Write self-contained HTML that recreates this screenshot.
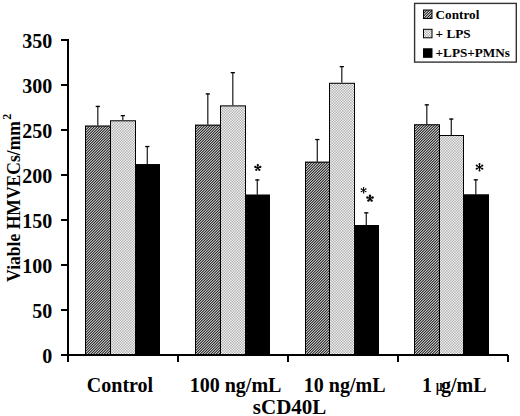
<!DOCTYPE html>
<html><head><meta charset="utf-8"><style>
html,body{margin:0;padding:0;background:#fff;}
body{width:520px;height:416px;overflow:hidden;}
svg{display:block;}
text{font-family:"Liberation Serif",serif;font-weight:bold;fill:#000;}
.t{font-size:20px;}
.y{font-size:18px;}
.x{font-size:20px;}
.l{font-size:13.2px;}
.s{font-size:19px;}
</style></head><body>
<svg width="520" height="416" viewBox="0 0 520 416">
<defs>
<pattern id="hatch" patternUnits="userSpaceOnUse" width="8" height="8" shape-rendering="crispEdges"><rect x="0" y="0" width="1" height="1" fill="rgb(210,210,210)"/><rect x="1" y="0" width="1" height="1" fill="rgb(60,60,60)"/><rect x="2" y="0" width="1" height="1" fill="rgb(122,122,122)"/><rect x="3" y="0" width="1" height="1" fill="rgb(184,184,184)"/><rect x="4" y="0" width="1" height="1" fill="rgb(34,34,34)"/><rect x="5" y="0" width="1" height="1" fill="rgb(184,184,184)"/><rect x="6" y="0" width="1" height="1" fill="rgb(122,122,122)"/><rect x="7" y="0" width="1" height="1" fill="rgb(60,60,60)"/><rect x="0" y="1" width="1" height="1" fill="rgb(60,60,60)"/><rect x="1" y="1" width="1" height="1" fill="rgb(122,122,122)"/><rect x="2" y="1" width="1" height="1" fill="rgb(184,184,184)"/><rect x="3" y="1" width="1" height="1" fill="rgb(34,34,34)"/><rect x="4" y="1" width="1" height="1" fill="rgb(184,184,184)"/><rect x="5" y="1" width="1" height="1" fill="rgb(122,122,122)"/><rect x="6" y="1" width="1" height="1" fill="rgb(60,60,60)"/><rect x="7" y="1" width="1" height="1" fill="rgb(210,210,210)"/><rect x="0" y="2" width="1" height="1" fill="rgb(122,122,122)"/><rect x="1" y="2" width="1" height="1" fill="rgb(184,184,184)"/><rect x="2" y="2" width="1" height="1" fill="rgb(34,34,34)"/><rect x="3" y="2" width="1" height="1" fill="rgb(184,184,184)"/><rect x="4" y="2" width="1" height="1" fill="rgb(122,122,122)"/><rect x="5" y="2" width="1" height="1" fill="rgb(60,60,60)"/><rect x="6" y="2" width="1" height="1" fill="rgb(210,210,210)"/><rect x="7" y="2" width="1" height="1" fill="rgb(60,60,60)"/><rect x="0" y="3" width="1" height="1" fill="rgb(184,184,184)"/><rect x="1" y="3" width="1" height="1" fill="rgb(34,34,34)"/><rect x="2" y="3" width="1" height="1" fill="rgb(184,184,184)"/><rect x="3" y="3" width="1" height="1" fill="rgb(122,122,122)"/><rect x="4" y="3" width="1" height="1" fill="rgb(60,60,60)"/><rect x="5" y="3" width="1" height="1" fill="rgb(210,210,210)"/><rect x="6" y="3" width="1" height="1" fill="rgb(60,60,60)"/><rect x="7" y="3" width="1" height="1" fill="rgb(122,122,122)"/><rect x="0" y="4" width="1" height="1" fill="rgb(34,34,34)"/><rect x="1" y="4" width="1" height="1" fill="rgb(184,184,184)"/><rect x="2" y="4" width="1" height="1" fill="rgb(122,122,122)"/><rect x="3" y="4" width="1" height="1" fill="rgb(60,60,60)"/><rect x="4" y="4" width="1" height="1" fill="rgb(210,210,210)"/><rect x="5" y="4" width="1" height="1" fill="rgb(60,60,60)"/><rect x="6" y="4" width="1" height="1" fill="rgb(122,122,122)"/><rect x="7" y="4" width="1" height="1" fill="rgb(184,184,184)"/><rect x="0" y="5" width="1" height="1" fill="rgb(184,184,184)"/><rect x="1" y="5" width="1" height="1" fill="rgb(122,122,122)"/><rect x="2" y="5" width="1" height="1" fill="rgb(60,60,60)"/><rect x="3" y="5" width="1" height="1" fill="rgb(210,210,210)"/><rect x="4" y="5" width="1" height="1" fill="rgb(60,60,60)"/><rect x="5" y="5" width="1" height="1" fill="rgb(122,122,122)"/><rect x="6" y="5" width="1" height="1" fill="rgb(184,184,184)"/><rect x="7" y="5" width="1" height="1" fill="rgb(34,34,34)"/><rect x="0" y="6" width="1" height="1" fill="rgb(122,122,122)"/><rect x="1" y="6" width="1" height="1" fill="rgb(60,60,60)"/><rect x="2" y="6" width="1" height="1" fill="rgb(210,210,210)"/><rect x="3" y="6" width="1" height="1" fill="rgb(60,60,60)"/><rect x="4" y="6" width="1" height="1" fill="rgb(122,122,122)"/><rect x="5" y="6" width="1" height="1" fill="rgb(184,184,184)"/><rect x="6" y="6" width="1" height="1" fill="rgb(34,34,34)"/><rect x="7" y="6" width="1" height="1" fill="rgb(184,184,184)"/><rect x="0" y="7" width="1" height="1" fill="rgb(60,60,60)"/><rect x="1" y="7" width="1" height="1" fill="rgb(210,210,210)"/><rect x="2" y="7" width="1" height="1" fill="rgb(60,60,60)"/><rect x="3" y="7" width="1" height="1" fill="rgb(122,122,122)"/><rect x="4" y="7" width="1" height="1" fill="rgb(184,184,184)"/><rect x="5" y="7" width="1" height="1" fill="rgb(34,34,34)"/><rect x="6" y="7" width="1" height="1" fill="rgb(184,184,184)"/><rect x="7" y="7" width="1" height="1" fill="rgb(122,122,122)"/></pattern>
<pattern id="dots" patternUnits="userSpaceOnUse" width="8" height="8" shape-rendering="crispEdges"><rect x="0" y="0" width="1" height="1" fill="rgb(176,176,176)"/><rect x="1" y="0" width="1" height="1" fill="rgb(248,248,248)"/><rect x="2" y="0" width="1" height="1" fill="rgb(187,187,187)"/><rect x="3" y="0" width="1" height="1" fill="rgb(201,201,201)"/><rect x="4" y="0" width="1" height="1" fill="rgb(242,242,242)"/><rect x="5" y="0" width="1" height="1" fill="rgb(170,170,170)"/><rect x="6" y="0" width="1" height="1" fill="rgb(231,231,231)"/><rect x="7" y="0" width="1" height="1" fill="rgb(217,217,217)"/><rect x="0" y="1" width="1" height="1" fill="rgb(248,248,248)"/><rect x="1" y="1" width="1" height="1" fill="rgb(163,163,163)"/><rect x="2" y="1" width="1" height="1" fill="rgb(235,235,235)"/><rect x="3" y="1" width="1" height="1" fill="rgb(218,218,218)"/><rect x="4" y="1" width="1" height="1" fill="rgb(170,170,170)"/><rect x="5" y="1" width="1" height="1" fill="rgb(255,255,255)"/><rect x="6" y="1" width="1" height="1" fill="rgb(183,183,183)"/><rect x="7" y="1" width="1" height="1" fill="rgb(200,200,200)"/><rect x="0" y="2" width="1" height="1" fill="rgb(187,187,187)"/><rect x="1" y="2" width="1" height="1" fill="rgb(235,235,235)"/><rect x="2" y="2" width="1" height="1" fill="rgb(194,194,194)"/><rect x="3" y="2" width="1" height="1" fill="rgb(204,204,204)"/><rect x="4" y="2" width="1" height="1" fill="rgb(231,231,231)"/><rect x="5" y="2" width="1" height="1" fill="rgb(183,183,183)"/><rect x="6" y="2" width="1" height="1" fill="rgb(224,224,224)"/><rect x="7" y="2" width="1" height="1" fill="rgb(214,214,214)"/><rect x="0" y="3" width="1" height="1" fill="rgb(201,201,201)"/><rect x="1" y="3" width="1" height="1" fill="rgb(218,218,218)"/><rect x="2" y="3" width="1" height="1" fill="rgb(204,204,204)"/><rect x="3" y="3" width="1" height="1" fill="rgb(207,207,207)"/><rect x="4" y="3" width="1" height="1" fill="rgb(217,217,217)"/><rect x="5" y="3" width="1" height="1" fill="rgb(200,200,200)"/><rect x="6" y="3" width="1" height="1" fill="rgb(214,214,214)"/><rect x="7" y="3" width="1" height="1" fill="rgb(211,211,211)"/><rect x="0" y="4" width="1" height="1" fill="rgb(242,242,242)"/><rect x="1" y="4" width="1" height="1" fill="rgb(170,170,170)"/><rect x="2" y="4" width="1" height="1" fill="rgb(231,231,231)"/><rect x="3" y="4" width="1" height="1" fill="rgb(217,217,217)"/><rect x="4" y="4" width="1" height="1" fill="rgb(176,176,176)"/><rect x="5" y="4" width="1" height="1" fill="rgb(248,248,248)"/><rect x="6" y="4" width="1" height="1" fill="rgb(187,187,187)"/><rect x="7" y="4" width="1" height="1" fill="rgb(201,201,201)"/><rect x="0" y="5" width="1" height="1" fill="rgb(170,170,170)"/><rect x="1" y="5" width="1" height="1" fill="rgb(255,255,255)"/><rect x="2" y="5" width="1" height="1" fill="rgb(183,183,183)"/><rect x="3" y="5" width="1" height="1" fill="rgb(200,200,200)"/><rect x="4" y="5" width="1" height="1" fill="rgb(248,248,248)"/><rect x="5" y="5" width="1" height="1" fill="rgb(163,163,163)"/><rect x="6" y="5" width="1" height="1" fill="rgb(235,235,235)"/><rect x="7" y="5" width="1" height="1" fill="rgb(218,218,218)"/><rect x="0" y="6" width="1" height="1" fill="rgb(231,231,231)"/><rect x="1" y="6" width="1" height="1" fill="rgb(183,183,183)"/><rect x="2" y="6" width="1" height="1" fill="rgb(224,224,224)"/><rect x="3" y="6" width="1" height="1" fill="rgb(214,214,214)"/><rect x="4" y="6" width="1" height="1" fill="rgb(187,187,187)"/><rect x="5" y="6" width="1" height="1" fill="rgb(235,235,235)"/><rect x="6" y="6" width="1" height="1" fill="rgb(194,194,194)"/><rect x="7" y="6" width="1" height="1" fill="rgb(204,204,204)"/><rect x="0" y="7" width="1" height="1" fill="rgb(217,217,217)"/><rect x="1" y="7" width="1" height="1" fill="rgb(200,200,200)"/><rect x="2" y="7" width="1" height="1" fill="rgb(214,214,214)"/><rect x="3" y="7" width="1" height="1" fill="rgb(211,211,211)"/><rect x="4" y="7" width="1" height="1" fill="rgb(201,201,201)"/><rect x="5" y="7" width="1" height="1" fill="rgb(218,218,218)"/><rect x="6" y="7" width="1" height="1" fill="rgb(204,204,204)"/><rect x="7" y="7" width="1" height="1" fill="rgb(207,207,207)"/></pattern>
</defs>
<line x1="97.80" y1="105.80" x2="97.80" y2="125.60" stroke="#2a2a2a" stroke-width="1.3"/>
<rect x="95.70" y="105.80" width="4.2" height="1.3" fill="#000"/>
<rect x="85" y="125.60" width="26" height="229.40" fill="url(#hatch)"/>
<line x1="122.80" y1="115.00" x2="122.80" y2="120.30" stroke="#2a2a2a" stroke-width="1.3"/>
<rect x="120.70" y="115.00" width="4.2" height="1.3" fill="#000"/>
<rect x="110" y="120.30" width="26" height="234.70" fill="url(#dots)"/>
<line x1="147.30" y1="145.90" x2="147.30" y2="164.20" stroke="#2a2a2a" stroke-width="1.3"/>
<rect x="145.20" y="145.90" width="4.2" height="1.3" fill="#000"/>
<rect x="135" y="164.20" width="25" height="190.80" fill="#000"/>
<rect x="85.5" y="126.10" width="25" height="229.40" fill="none" stroke="#000" stroke-width="1"/>
<rect x="110.5" y="120.80" width="25" height="234.70" fill="none" stroke="#000" stroke-width="1"/>
<rect x="135.5" y="164.70" width="24" height="190.80" fill="none" stroke="#000" stroke-width="1"/>
<line x1="207.80" y1="93.30" x2="207.80" y2="124.70" stroke="#2a2a2a" stroke-width="1.3"/>
<rect x="205.70" y="93.30" width="4.2" height="1.3" fill="#000"/>
<rect x="195" y="124.70" width="26" height="230.30" fill="url(#hatch)"/>
<line x1="232.80" y1="72.00" x2="232.80" y2="105.40" stroke="#2a2a2a" stroke-width="1.3"/>
<rect x="230.70" y="72.00" width="4.2" height="1.3" fill="#000"/>
<rect x="220" y="105.40" width="26" height="249.60" fill="url(#dots)"/>
<line x1="257.30" y1="179.30" x2="257.30" y2="194.70" stroke="#2a2a2a" stroke-width="1.3"/>
<rect x="255.20" y="179.30" width="4.2" height="1.3" fill="#000"/>
<rect x="245" y="194.70" width="25" height="160.30" fill="#000"/>
<rect x="195.5" y="125.20" width="25" height="230.30" fill="none" stroke="#000" stroke-width="1"/>
<rect x="220.5" y="105.90" width="25" height="249.60" fill="none" stroke="#000" stroke-width="1"/>
<rect x="245.5" y="195.20" width="24" height="160.30" fill="none" stroke="#000" stroke-width="1"/>
<line x1="317.30" y1="138.90" x2="317.30" y2="161.70" stroke="#2a2a2a" stroke-width="1.3"/>
<rect x="315.20" y="138.90" width="4.2" height="1.3" fill="#000"/>
<rect x="305" y="161.70" width="25" height="193.30" fill="url(#hatch)"/>
<line x1="341.80" y1="66.00" x2="341.80" y2="82.80" stroke="#2a2a2a" stroke-width="1.3"/>
<rect x="339.70" y="66.00" width="4.2" height="1.3" fill="#000"/>
<rect x="329" y="82.80" width="26" height="272.20" fill="url(#dots)"/>
<line x1="366.30" y1="212.20" x2="366.30" y2="225.00" stroke="#2a2a2a" stroke-width="1.3"/>
<rect x="364.20" y="212.20" width="4.2" height="1.3" fill="#000"/>
<rect x="354" y="225.00" width="25" height="130.00" fill="#000"/>
<rect x="305.5" y="162.20" width="24" height="193.30" fill="none" stroke="#000" stroke-width="1"/>
<rect x="329.5" y="83.30" width="25" height="272.20" fill="none" stroke="#000" stroke-width="1"/>
<rect x="354.5" y="225.50" width="24" height="130.00" fill="none" stroke="#000" stroke-width="1"/>
<line x1="426.80" y1="104.20" x2="426.80" y2="124.30" stroke="#2a2a2a" stroke-width="1.3"/>
<rect x="424.70" y="104.20" width="4.2" height="1.3" fill="#000"/>
<rect x="414" y="124.30" width="26" height="230.70" fill="url(#hatch)"/>
<line x1="451.30" y1="118.40" x2="451.30" y2="135.00" stroke="#2a2a2a" stroke-width="1.3"/>
<rect x="449.20" y="118.40" width="4.2" height="1.3" fill="#000"/>
<rect x="439" y="135.00" width="25" height="220.00" fill="url(#dots)"/>
<line x1="475.80" y1="179.20" x2="475.80" y2="194.50" stroke="#2a2a2a" stroke-width="1.3"/>
<rect x="473.70" y="179.20" width="4.2" height="1.3" fill="#000"/>
<rect x="463" y="194.50" width="26" height="160.50" fill="#000"/>
<rect x="414.5" y="124.80" width="25" height="230.70" fill="none" stroke="#000" stroke-width="1"/>
<rect x="439.5" y="135.50" width="24" height="220.00" fill="none" stroke="#000" stroke-width="1"/>
<rect x="463.5" y="195.00" width="25" height="160.50" fill="none" stroke="#000" stroke-width="1"/>
<line x1="68" y1="39" x2="68" y2="362" stroke="#000" stroke-width="2"/>
<line x1="61" y1="355" x2="508" y2="355" stroke="#000" stroke-width="2"/>
<line x1="61" y1="355.0" x2="68" y2="355.0" stroke="#000" stroke-width="2"/>
<text x="52.3" y="362.8" text-anchor="end" class="t">0</text>
<line x1="61" y1="310.0" x2="68" y2="310.0" stroke="#000" stroke-width="2"/>
<text x="52.3" y="317.8" text-anchor="end" class="t">50</text>
<line x1="61" y1="265.0" x2="68" y2="265.0" stroke="#000" stroke-width="2"/>
<text x="52.3" y="272.8" text-anchor="end" class="t">100</text>
<line x1="61" y1="220.0" x2="68" y2="220.0" stroke="#000" stroke-width="2"/>
<text x="52.3" y="227.8" text-anchor="end" class="t">150</text>
<line x1="61" y1="175.0" x2="68" y2="175.0" stroke="#000" stroke-width="2"/>
<text x="52.3" y="182.8" text-anchor="end" class="t">200</text>
<line x1="61" y1="130.0" x2="68" y2="130.0" stroke="#000" stroke-width="2"/>
<text x="52.3" y="137.8" text-anchor="end" class="t">250</text>
<line x1="61" y1="85.0" x2="68" y2="85.0" stroke="#000" stroke-width="2"/>
<text x="52.3" y="92.8" text-anchor="end" class="t">300</text>
<line x1="61" y1="40.0" x2="68" y2="40.0" stroke="#000" stroke-width="2"/>
<text x="52.3" y="47.8" text-anchor="end" class="t">350</text>
<line x1="178" y1="355.0" x2="178" y2="362" stroke="#000" stroke-width="2"/>
<line x1="288" y1="355.0" x2="288" y2="362" stroke="#000" stroke-width="2"/>
<line x1="398" y1="355.0" x2="398" y2="362" stroke="#000" stroke-width="2"/>
<line x1="508" y1="355.0" x2="508" y2="362" stroke="#000" stroke-width="2"/>
<text x="120" y="392" text-anchor="middle" class="x">Control</text>
<text x="235.6" y="392" text-anchor="middle" class="x">100 ng/mL</text>
<text x="344.7" y="392" text-anchor="middle" class="x">10 ng/mL</text>
<text x="422" y="392" class="x">1</text>
<text transform="translate(435.9,391.4) scale(0.56,0.8)" style="font-size:20px;font-weight:bold">μ</text>
<text x="441" y="392" class="x">g/mL</text>
<text x="289.6" y="413.7" text-anchor="middle" class="x" style="font-size:21px">sCD40L</text>
<text transform="translate(20.1,281.9) rotate(-90) scale(0.925,1)" class="y" style="font-size:19px">Viable HMVECs/mm</text>
<text transform="translate(10.6,119.8) rotate(-90)" class="y" style="font-size:12px">2</text>
<path d="M257.80,167.70L257.80,165.10M257.80,167.70L260.27,166.90M257.80,167.70L259.33,169.80M257.80,167.70L256.27,169.80M257.80,167.70L255.33,166.90" stroke="#000" stroke-width="1.1" fill="none"/><circle cx="257.80" cy="165.10" r="1.15" fill="#000"/><circle cx="260.27" cy="166.90" r="1.15" fill="#000"/><circle cx="259.33" cy="169.80" r="1.15" fill="#000"/><circle cx="256.27" cy="169.80" r="1.15" fill="#000"/><circle cx="255.33" cy="166.90" r="1.15" fill="#000"/><circle cx="257.8" cy="167.7" r="0.88" fill="#000"/>
<path d="M363.60,190.30L363.60,187.70M363.60,190.30L365.85,189.00M363.60,190.30L365.85,191.60M363.60,190.30L363.60,192.90M363.60,190.30L361.35,191.60M363.60,190.30L361.35,189.00" stroke="#000" stroke-width="1.0" fill="none"/><circle cx="363.60" cy="187.70" r="0.7" fill="#000"/><circle cx="365.85" cy="189.00" r="0.7" fill="#000"/><circle cx="365.85" cy="191.60" r="0.7" fill="#000"/><circle cx="363.60" cy="192.90" r="0.7" fill="#000"/><circle cx="361.35" cy="191.60" r="0.7" fill="#000"/><circle cx="361.35" cy="189.00" r="0.7" fill="#000"/><circle cx="363.6" cy="190.3" r="0.80" fill="#000"/>
<path d="M370.00,198.40L370.00,195.70M370.00,198.40L372.57,197.57M370.00,198.40L371.59,200.58M370.00,198.40L368.41,200.58M370.00,198.40L367.43,197.57" stroke="#000" stroke-width="1.1" fill="none"/><circle cx="370.00" cy="195.70" r="1.2" fill="#000"/><circle cx="372.57" cy="197.57" r="1.2" fill="#000"/><circle cx="371.59" cy="200.58" r="1.2" fill="#000"/><circle cx="368.41" cy="200.58" r="1.2" fill="#000"/><circle cx="367.43" cy="197.57" r="1.2" fill="#000"/><circle cx="370.0" cy="198.4" r="0.88" fill="#000"/>
<path d="M479.50,167.20L479.50,163.90M479.50,167.20L482.36,165.55M479.50,167.20L482.36,168.85M479.50,167.20L479.50,170.50M479.50,167.20L476.64,168.85M479.50,167.20L476.64,165.55" stroke="#000" stroke-width="1.1" fill="none"/><circle cx="479.50" cy="163.90" r="1.0" fill="#000"/><circle cx="482.36" cy="165.55" r="1.0" fill="#000"/><circle cx="482.36" cy="168.85" r="1.0" fill="#000"/><circle cx="479.50" cy="170.50" r="1.0" fill="#000"/><circle cx="476.64" cy="168.85" r="1.0" fill="#000"/><circle cx="476.64" cy="165.55" r="1.0" fill="#000"/><circle cx="479.5" cy="167.2" r="0.88" fill="#000"/>
<rect x="414.6" y="3.4" width="101.7" height="58.7" fill="#fff" stroke="#333" stroke-width="1.4"/>
<rect x="423.5" y="10" width="8.5" height="8.5" fill="url(#hatch)" stroke="#000" stroke-width="1"/>
<rect x="423.5" y="29.3" width="8.5" height="8.5" fill="url(#dots)" stroke="#000" stroke-width="1"/>
<rect x="423.5" y="48.8" width="8.5" height="8.5" fill="#000" stroke="#000" stroke-width="1"/>
<text x="435.6" y="18.6" class="l">Control</text>
<text x="435.6" y="38" class="l">+ LPS</text>
<text x="435.6" y="57.4" class="l">+LPS+PMNs</text>
</svg>
</body></html>
